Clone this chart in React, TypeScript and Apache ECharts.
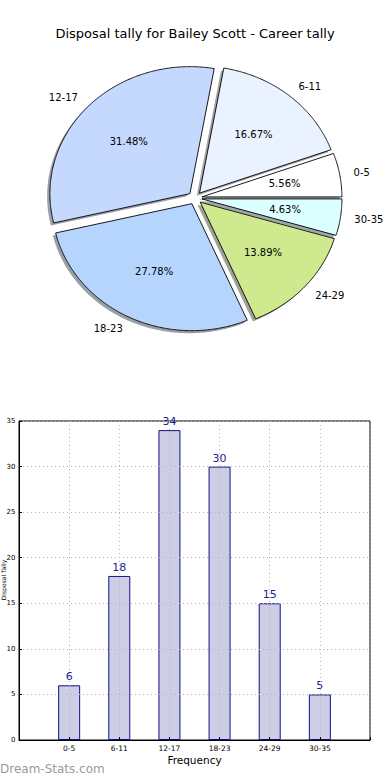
import React, { useEffect, useRef } from "react";
import * as echarts from "echarts";

const categories = ["0-5", "6-11", "12-17", "18-23", "24-29", "30-35"];
const tallies = [6, 18, 34, 30, 15, 5];
const pieColors = ["#ffffff", "#ebf2ff", "#c5d9ff", "#b5d5ff", "#cfe98f", "#dcffff"];
const yMin = 0;
const yMax = 35;
const yStep = 5;

const TITLE = "Disposal tally for Bailey Scott - Career tally";
const Y_NAME = "Disposal Tally";
const FONT = "DejaVu Sans";

// pie geometry (matplotlib draws an elliptical pie here)
const CX = 195;
const CY = 198;
const RX = 140;
const RY = 127;
const EXPLODE = 0.05;
const PCT_DIST = 0.6;
const LABEL_DIST = 1.1;

function hexToRgb(h: string) {
  const n = parseInt(h.slice(1), 16);
  return [(n >> 16) & 255, (n >> 8) & 255, n & 255];
}

export default function App() {
  const ref = useRef<HTMLDivElement>(null);

  useEffect(() => {
    document.body.style.margin = "0";
    if (!ref.current) return;
    const chart = echarts.init(ref.current, null, { renderer: "svg" });

    const total = tallies.reduce((a, b) => a + b, 0);
    const cum: number[] = [];
    let acc = 0;
    tallies.forEach((v) => {
      cum.push(acc);
      acc += v;
    });

    const renderItem = (params: any, api: any) => {
      const i = params.dataIndex;
      const v = api.value(0) as number;
      const a1 = (cum[i] / total) * 360;
      const a2 = a1 + (v / total) * 360;
      const mid = ((a1 + a2) / 2) * (Math.PI / 180);
      const ox = CX + EXPLODE * RX * Math.cos(mid);
      const oy = CY - EXPLODE * RY * Math.sin(mid);
      const pts: number[][] = [[ox, oy]];
      const steps = Math.max(2, Math.ceil(a2 - a1) * 2);
      for (let k = 0; k <= steps; k++) {
        const t = ((a1 + ((a2 - a1) * k) / steps) * Math.PI) / 180;
        pts.push([ox + RX * Math.cos(t), oy - RY * Math.sin(t)]);
      }
      const sdx = -0.02 * RX;
      const sdy = 0.02 * RY;
      const shadowPts = pts.map((p) => [p[0] + sdx, p[1] + sdy]);
      const rgb = hexToRgb(pieColors[i]);
      const shadowFill = `rgba(${Math.round(rgb[0] * 0.3)},${Math.round(
        rgb[1] * 0.3
      )},${Math.round(rgb[2] * 0.3)},0.5)`;
      const cosm = Math.cos(mid);
      const sinm = Math.sin(mid);
      const px = ox + PCT_DIST * RX * cosm;
      const py = oy - PCT_DIST * RY * sinm;
      const lx = ox + LABEL_DIST * RX * cosm;
      const ly = oy - LABEL_DIST * RY * sinm;
      const pct = ((v / total) * 100).toFixed(2) + "%";
      return {
        type: "group",
        children: [
          {
            type: "polygon",
            shape: { points: shadowPts },
            style: { fill: shadowFill },
            z2: 1,
          },
          {
            type: "polygon",
            shape: { points: pts },
            style: { fill: pieColors[i], stroke: "#000000", lineWidth: 0.9 },
            z2: 10,
          },
          {
            type: "text",
            x: px,
            y: py,
            style: {
              text: pct,
              fill: "#000000",
              fontSize: 10,
              fontFamily: FONT,
              align: "center",
              verticalAlign: "middle",
            },
            z2: 20,
          },
          {
            type: "text",
            x: lx,
            y: ly,
            style: {
              text: categories[i],
              fill: "#000000",
              fontSize: 10,
              fontFamily: FONT,
              align: cosm >= 0 ? "left" : "right",
              verticalAlign: "middle",
            },
            z2: 20,
          },
        ],
      };
    };

    const dotted = { color: "#b4b4b4", type: [1, 3] as any, width: 1 };

    chart.setOption({
      animation: false,
      textStyle: { fontFamily: FONT },
      title: {
        text: TITLE,
        left: "center",
        top: 22,
        textStyle: {
          fontFamily: FONT,
          fontSize: 13,
          fontWeight: "normal",
          color: "#000000",
        },
      },
      grid: {
        left: 19,
        width: 351,
        top: 421,
        height: 319,
        containLabel: false,
        outerBoundsMode: "none",
        show: true,
        borderColor: "#000000",
        borderWidth: 1,
        backgroundColor: "transparent",
      },
      xAxis: {
        type: "value",
        min: -1,
        max: categories.length,
        interval: 1,
        z: 5,
        name: "Frequency",
        nameLocation: "middle",
        nameGap: 14,
        nameTextStyle: { fontFamily: FONT, fontSize: 10.5, color: "#000000" },
        axisLine: { show: true, onZero: false, lineStyle: { color: "#000000", width: 1 } },
        axisTick: { show: true, inside: true, length: 3, lineStyle: { color: "#000000" } },
        axisLabel: {
          fontSize: 7.5,
          fontFamily: FONT,
          color: "#000000",
          margin: 4,
          formatter: (v: number) => categories[v] ?? "",
        },
        splitLine: { show: true, lineStyle: dotted },
      },
      yAxis: {
        type: "value",
        min: yMin,
        max: yMax,
        interval: yStep,
        z: 5,
        axisLine: { show: true, onZero: false, lineStyle: { color: "#000000", width: 1 } },
        axisTick: { show: true, inside: true, length: 3, lineStyle: { color: "#000000" } },
        axisLabel: {
          fontSize: 7,
          fontFamily: FONT,
          color: "#000000",
          margin: 3.5,
        },
        splitLine: { show: true, lineStyle: dotted },
      },
      graphic: [
        {
          type: "text",
          x: 3.5,
          y: 580,
          rotation: Math.PI / 2,
          style: {
            text: Y_NAME,
            fill: "#000000",
            fontSize: 6,
            fontFamily: FONT,
            align: "center",
            verticalAlign: "middle",
          },
        },
        {
          type: "text",
          left: 0,
          top: 763,
          style: {
            text: "Dream-Stats.com",
            fill: "#9a9a9a",
            fontSize: 12,
            fontFamily: FONT,
          },
        },
      ],
      series: [
        {
          type: "custom",
          coordinateSystem: "none",
          silent: true,
          renderItem,
          data: tallies.map((v) => [v]),
        },
        {
          type: "bar",
          silent: true,
          barWidth: 22,
          data: tallies.map((v, i) => [i, v]),
          itemStyle: {
            color: "#cdcde6",
            borderColor: "#10108a",
            borderWidth: 1,
          },
          label: {
            show: true,
            position: "top",
            distance: 3,
            fontSize: 11,
            fontFamily: FONT,
            color: "#22228f",
          },
        },
      ],
    });

    return () => chart.dispose();
  }, []);

  return <div ref={ref} style={{ width: 390, height: 780 }} />;
}
